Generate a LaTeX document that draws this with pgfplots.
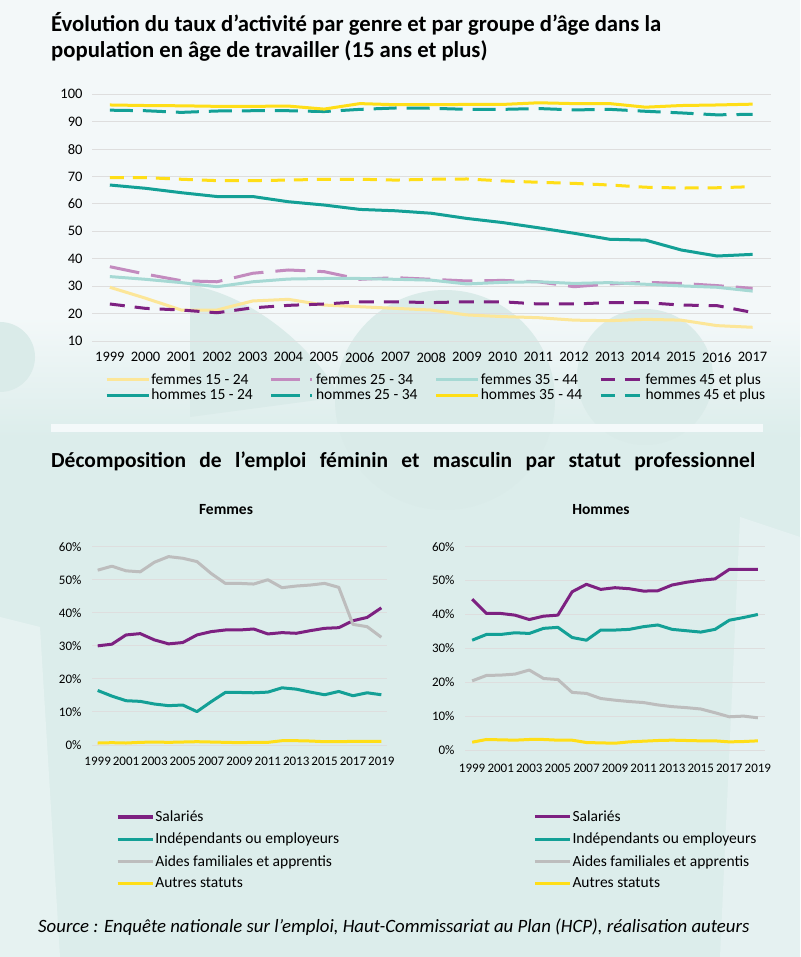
\documentclass[border=0pt]{standalone}
\usepackage{fontspec}
\setmainfont{Carlito}
\usepackage{pgfplots}
\pgfplotsset{compat=1.18}
\usepackage{pgfplotstable}

\definecolor{bgtop}{HTML}{F3F8F9}
\definecolor{bgbot}{HTML}{DCEDEB}
\definecolor{blob}{HTML}{DAEBE9}
\definecolor{gridc}{HTML}{DEDEDE}
\definecolor{cYel}{HTML}{FFDE17}
\definecolor{cLYel}{HTML}{FCE698}
\definecolor{cTeal}{HTML}{13A096}
\definecolor{cLTeal}{HTML}{A6D9D4}
\definecolor{cPink}{HTML}{C38BBF}
\definecolor{cPurp}{HTML}{7D2181}
\definecolor{cGrey}{HTML}{BDBDBD}

% taux d'activite (%)
\pgfplotstableread{
year f1524 f2534 f3544 f45 h1524 h2534 h3544 h45
1999 29.6 37.1 33.5 23.5 66.9 94.2 96.1 69.6
2000 25.6 34.4 32.5 21.9 65.7 94.0 95.9 69.6
2001 21.3 32.0 31.3 21.3 64.1 93.4 95.8 69.0
2002 21.3 31.6 29.8 20.3 62.7 93.9 95.6 68.5
2003 24.6 34.7 31.6 22.1 62.7 94.0 95.6 68.5
2004 25.2 35.9 32.6 23.0 60.8 94.0 95.7 68.7
2005 23.1 35.3 32.8 23.5 59.6 93.7 94.6 69.0
2006 22.5 32.5 32.8 24.3 58.0 94.5 96.6 69.0
2007 21.9 33.1 32.5 24.3 57.5 95.0 96.2 68.7
2008 21.3 32.5 32.2 24.0 56.6 94.9 96.2 69.0
2009 19.5 31.9 30.8 24.3 54.7 94.5 96.3 69.1
2010 18.9 32.1 31.4 24.3 53.2 94.5 96.3 68.4
2011 18.5 31.6 31.6 23.5 51.3 94.8 96.9 67.9
2012 17.6 29.8 31.0 23.5 49.3 94.3 96.6 67.5
2013 17.4 30.8 31.3 24.0 47.1 94.5 96.6 66.9
2014 17.9 31.4 30.7 24.0 46.8 93.8 95.3 66.1
2015 17.6 31.0 30.1 23.1 43.2 93.2 95.9 65.8
2016 15.6 30.2 29.6 22.9 41.0 92.5 96.1 65.9
2017 15.0 29.2 28.2 20.4 41.6 92.7 96.4 66.3
}\activite

% emploi feminin par statut (%)
\pgfplotstableread{
year sal ind aid aut
1999 30.0 16.5 52.9 0.6
2000 30.5 14.8 54.1 0.7
2001 33.3 13.4 52.7 0.6
2002 33.7 13.2 52.4 0.8
2003 31.8 12.4 55.3 0.9
2004 30.6 11.9 57.0 0.8
2005 31.0 12.1 56.5 0.9
2006 33.3 10.1 55.5 1.0
2007 34.3 13.1 51.9 0.9
2008 34.8 15.9 48.9 0.8
2009 34.8 15.9 48.9 0.7
2010 35.1 15.8 48.7 0.8
2011 33.6 16.0 50.0 0.8
2012 34.0 17.3 47.6 1.3
2013 33.8 16.9 48.1 1.3
2014 34.6 16.0 48.4 1.2
2015 35.3 15.2 48.9 1.0
2016 35.5 16.2 47.7 1.0
2017 37.6 14.9 36.5 1.1
2018 38.6 15.8 35.8 1.1
2019 41.5 15.2 32.6 1.1
}\femmes

% emploi masculin par statut (%)
\pgfplotstableread{
year sal ind aid aut
1999 44.5 32.4 20.4 2.3
2000 40.3 34.1 22.0 3.1
2001 40.3 34.1 22.1 3.0
2002 39.8 34.6 22.4 2.9
2003 38.5 34.4 23.6 3.1
2004 39.5 35.9 21.1 3.1
2005 39.8 36.2 20.8 2.9
2006 46.7 33.2 17.0 2.9
2007 48.9 32.4 16.7 2.2
2008 47.4 35.4 15.2 2.1
2009 47.9 35.4 14.7 2.0
2010 47.6 35.6 14.3 2.4
2011 46.9 36.4 14.0 2.6
2012 47.0 36.9 13.3 2.8
2013 48.7 35.6 12.8 2.9
2014 49.5 35.2 12.5 2.8
2015 50.1 34.8 12.1 2.7
2016 50.5 35.6 11.0 2.7
2017 53.3 38.3 9.8 2.4
2018 53.3 39.1 10.0 2.5
2019 53.3 40.0 9.5 2.7
}\hommes

\pgfplotsset{
  chartbase/.style={
    scale only axis,
    clip=false,
    axis line style={draw=none},
    major tick length=0pt,
    ymajorgrids,
    grid style={draw=gridc, line width=0.9pt},
    /pgf/number format/assume math mode=true,
    /pgf/number format/1000 sep={},
    legend cell align=left,
  },
  statut/.style={
    chartbase,
    xmin=1998.6, xmax=2019.4,
    ymin=0, ymax=60,
    xtick={1999,2001,...,2019},
    ytick={0,10,...,60},
    yticklabel={\pgfmathprintnumber{\tick}\%},
    tick label style={font=\fontsize{13}{15}\selectfont},
    yticklabel style={xshift=-7pt},
    legend image code/.code={\draw[##1, line width=3.2pt] (0pt,0pt) -- (35pt,0pt);},
    legend style={draw=none, fill=none, inner sep=0pt,
      font=\fontsize{15.5}{18}\selectfont,
      nodes={inner sep=1pt}, row sep=8pt},
  },
  ln/.style={line width=3pt, line join=round},
}

\begin{document}
\begin{tikzpicture}[x=1pt,y=1pt]
\useasboundingbox (0,0) rectangle (800,957);
% fond
\fill[bgtop] (0,0) rectangle (800,957);
\shade[top color=bgtop, bottom color=bgbot] (0,520) rectangle (800,640);
\fill[bgbot] (0,0) rectangle (800,520);
\fill[blob] (445,557) circle (110);
\fill[blob] (645,580) circle (68);
\fill[blob] (0,600) circle (35);
\fill[blob] (190,672) .. controls (260,660) and (320,600) .. (340,560) -- (190,540) -- cycle;
\fill[bgtop!45!bgbot] (0,0) -- (60,0) -- (40,330) -- (0,340) -- cycle;
\fill[bgtop!40!bgbot] (720,0) -- (800,0) -- (800,420) -- (740,440) -- cycle;
\fill[bgtop!90!white] (51,525) rectangle (763,533);

% titres
\node[anchor=base west, inner sep=0pt, font=\fontsize{22.7}{26}\bfseries\selectfont] at (51,925)
  {Évolution du taux d’activité par genre et par groupe d’âge dans la};
\node[anchor=base west, inner sep=0pt, font=\fontsize{22.7}{26}\bfseries\selectfont] at (51,899)
  {population en âge de travailler (15 ans et plus)};
\node[anchor=base west, inner sep=0pt, font=\fontsize{21.5}{25}\bfseries\selectfont] at (51,489)
  {\makebox[704pt][s]{Décomposition de l’emploi féminin et masculin par statut professionnel}};
\node[anchor=base, font=\fontsize{15.5}{18}\bfseries\selectfont] at (226,442) {Femmes};
\node[anchor=base, font=\fontsize{15.5}{18}\bfseries\selectfont] at (601,442) {Hommes};
\node[anchor=base west, inner sep=0pt, font=\fontsize{18.8}{22}\itshape\selectfont] at (38,24)
  {Source : Enquête nationale sur l'emploi, Haut-Commissariat au Plan (HCP), réalisation auteurs};

% taux d'activite
\begin{axis}[
  chartbase,
  at={(92pt,616pt)}, anchor=south west,
  width=678.5pt, height=246.7pt,
  xmin=1998.5, xmax=2017.5,
  ymin=10, ymax=100,
  xtick={1999,...,2017},
  ytick={10,20,...,100},
  tick label style={font=\fontsize{14.5}{16}\selectfont},
  xticklabel style={yshift=-8pt},
  yticklabel style={xshift=-6pt},
  legend columns=4,
  legend image code/.code={\draw[#1] (0pt,0pt) -- (42pt,0pt);},
  legend style={at={(0.019,-0.128)}, anchor=north west,
    draw=none, fill=none, inner sep=0pt,
    font=\fontsize{15.5}{18}\selectfont,
    nodes={inner sep=1pt}, row sep=1pt,
    /tikz/every even column/.append style={column sep=16pt}},
]
\addplot[ln, cLYel, forget plot] table[x=year, y=f1524] {\activite};
\addplot[ln, cPink, dash pattern=on 30pt off 12pt, forget plot] table[x=year, y=f2534] {\activite};
\addplot[ln, cLTeal, forget plot] table[x=year, y=f3544] {\activite};
\addplot[ln, cPurp, dash pattern=on 15pt off 10pt, forget plot] table[x=year, y=f45] {\activite};
\addplot[ln, cTeal, forget plot] table[x=year, y=h1524] {\activite};
\addplot[ln, cTeal, dash pattern=on 23pt off 10pt, forget plot] table[x=year, y=h2534] {\activite};
\addplot[ln, cYel, forget plot] table[x=year, y=h3544] {\activite};
\addplot[ln, cYel, dash pattern=on 14pt off 9pt, forget plot] table[x=year, y=h45] {\activite};

\addlegendimage{line width=3.2pt, cLYel}\addlegendentry{femmes 15 - 24}
\addlegendimage{line width=3.2pt, cPink, dash pattern=on 29pt off 10pt on 2pt off 100pt}\addlegendentry{femmes 25 - 34}
\addlegendimage{line width=3.2pt, cLTeal}\addlegendentry{femmes 35 - 44}
\addlegendimage{line width=3.2pt, cPurp, dash pattern=on 14pt off 10pt on 15pt off 100pt}\addlegendentry{femmes 45 et plus}
\addlegendimage{line width=3.2pt, cTeal}\addlegendentry{hommes 15 - 24}
\addlegendimage{line width=3.2pt, cTeal, dash pattern=on 29pt off 10pt on 2pt off 100pt}\addlegendentry{hommes 25 - 34}
\addlegendimage{line width=3.2pt, cYel}\addlegendentry{hommes 35 - 44}
\addlegendimage{line width=3.2pt, cTeal, dash pattern=on 14pt off 10pt on 15pt off 100pt}\addlegendentry{hommes 45 et plus}
\end{axis}

% femmes
\begin{axis}[
  statut,
  at={(92pt,212pt)}, anchor=south west,
  width=295pt, height=198.3pt,
  xticklabel style={yshift=-9pt},
  legend style={at={(0.081,-0.326)}, anchor=north west},
]
\addplot[ln, cPurp] table[x=year, y=sal] {\femmes};
\addlegendentry{Salariés}
\addplot[ln, cTeal] table[x=year, y=ind] {\femmes};
\addlegendentry{Indépendants ou employeurs}
\addplot[ln, cGrey] table[x=year, y=aid] {\femmes};
\addlegendentry{Aides familiales et apprentis}
\addplot[ln, cYel] table[x=year, y=aut] {\femmes};
\addlegendentry{Autres statuts}
\end{axis}

% hommes
\begin{axis}[
  statut,
  at={(465pt,207pt)}, anchor=south west,
  width=300pt, height=203.3pt,
  xmin=1998.5, xmax=2019.5,
  xticklabel style={yshift=-11pt},
  legend style={at={(0.227,-0.293)}, anchor=north west},
]
\addplot[ln, cPurp] table[x=year, y=sal] {\hommes};
\addlegendentry{Salariés}
\addplot[ln, cTeal] table[x=year, y=ind] {\hommes};
\addlegendentry{Indépendants ou employeurs}
\addplot[ln, cGrey] table[x=year, y=aid] {\hommes};
\addlegendentry{Aides familiales et apprentis}
\addplot[ln, cYel] table[x=year, y=aut] {\hommes};
\addlegendentry{Autres statuts}
\end{axis}
\end{tikzpicture}
\end{document}
